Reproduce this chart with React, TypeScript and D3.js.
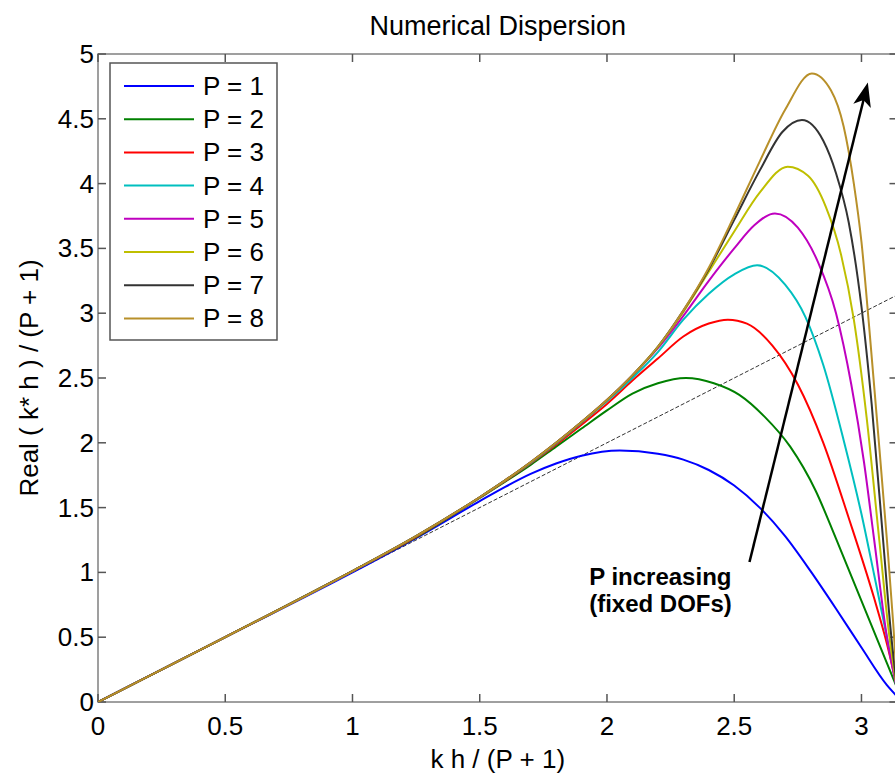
import React from 'react';
import * as d3 from 'd3';

type Pt = [number, number];

const seriesLabels = ['P = 1', 'P = 2', 'P = 3', 'P = 4', 'P = 5', 'P = 6', 'P = 7', 'P = 8'];
const seriesColors = ['#0000ff', '#008000', '#ff0000', '#00bfbf', '#bf00bf', '#bfbf00', '#333333', '#b8902a'];

const p1: Pt[] = [[0, 0], [0.5, 0.5], [1.0, 1.0], [1.25, 1.265], [1.5, 1.55], [1.6, 1.66], [1.7, 1.76], [1.8, 1.84], [1.9, 1.9], [2.05, 1.94], [2.2, 1.915], [2.3, 1.87], [2.4, 1.79], [2.5, 1.67], [2.6, 1.5], [2.7, 1.28], [2.8, 1.01], [2.9, 0.72], [3.0, 0.42], [3.1, 0.13], [Math.PI, 0.04]];
const p2: Pt[] = [[0, 0], [0.5, 0.5], [1.0, 1.01], [1.25, 1.27], [1.5, 1.575], [1.6, 1.7], [1.7, 1.83], [1.8, 1.97], [1.9, 2.11], [2.0, 2.25], [2.1, 2.38], [2.2, 2.46], [2.31, 2.5], [2.42, 2.46], [2.52, 2.37], [2.62, 2.2], [2.72, 1.97], [2.82, 1.63], [2.9, 1.26], [3.0, 0.78], [3.1, 0.3], [Math.PI, 0.1]];
const p3: Pt[] = [[0, 0], [0.5, 0.5], [1.0, 1.01], [1.25, 1.275], [1.5, 1.578], [1.6, 1.705], [1.7, 1.84], [1.8, 1.985], [1.9, 2.14], [2.0, 2.3], [2.1, 2.48], [2.2, 2.65], [2.3, 2.82], [2.4, 2.92], [2.475, 2.95], [2.55, 2.92], [2.65, 2.75], [2.75, 2.45], [2.85, 2.0], [2.95, 1.42], [3.05, 0.8], [3.1, 0.45], [Math.PI, 0.1]];
const p4: Pt[] = [[0, 0], [0.5, 0.5], [1.0, 1.01], [1.25, 1.28], [1.5, 1.58], [1.6, 1.71], [1.7, 1.845], [1.8, 1.995], [1.9, 2.155], [2.0, 2.32], [2.1, 2.5], [2.2, 2.7], [2.3, 2.95], [2.4, 3.15], [2.5, 3.3], [2.59, 3.37], [2.7, 3.22], [2.78, 2.97], [2.85, 2.6], [2.93, 2.02], [3.0, 1.45], [3.05, 0.98], [3.1, 0.5], [Math.PI, 0.08]];
const p5: Pt[] = [[0, 0], [0.5, 0.5], [1.0, 1.01], [1.25, 1.28], [1.5, 1.58], [1.6, 1.71], [1.7, 1.85], [1.8, 2.0], [1.9, 2.16], [2.0, 2.33], [2.1, 2.52], [2.2, 2.73], [2.3, 2.98], [2.4, 3.25], [2.5, 3.5], [2.58, 3.68], [2.66, 3.77], [2.75, 3.66], [2.83, 3.39], [2.9, 3.0], [2.96, 2.45], [3.01, 1.85], [3.05, 1.25], [3.1, 0.5], [Math.PI, 0.08]];
const p6: Pt[] = [[0, 0], [0.5, 0.5], [1.0, 1.01], [1.25, 1.28], [1.5, 1.58], [1.6, 1.71], [1.7, 1.85], [1.8, 2.0], [1.9, 2.16], [2.0, 2.33], [2.1, 2.52], [2.2, 2.74], [2.3, 3.01], [2.4, 3.32], [2.5, 3.63], [2.6, 3.93], [2.71, 4.13], [2.79, 4.06], [2.86, 3.82], [2.92, 3.45], [2.97, 2.95], [3.02, 2.2], [3.07, 1.25], [3.11, 0.5], [Math.PI, 0.08]];
const p7: Pt[] = [[0, 0], [0.5, 0.5], [1.0, 1.01], [1.25, 1.28], [1.5, 1.58], [1.6, 1.71], [1.7, 1.85], [1.8, 2.0], [1.9, 2.16], [2.0, 2.33], [2.1, 2.52], [2.2, 2.74], [2.3, 3.02], [2.4, 3.34], [2.5, 3.72], [2.6, 4.1], [2.69, 4.4], [2.766, 4.49], [2.85, 4.33], [2.9, 4.08], [2.95, 3.7], [3.0, 3.05], [3.04, 2.3], [3.085, 1.25], [3.115, 0.55], [Math.PI, 0.08]];
const p8: Pt[] = [[0, 0], [0.5, 0.5], [1.0, 1.01], [1.25, 1.28], [1.5, 1.58], [1.6, 1.71], [1.7, 1.85], [1.8, 2.0], [1.9, 2.16], [2.0, 2.33], [2.1, 2.52], [2.2, 2.74], [2.3, 3.02], [2.4, 3.35], [2.5, 3.75], [2.6, 4.17], [2.7, 4.57], [2.805, 4.85], [2.88, 4.72], [2.93, 4.44], [2.97, 4.0], [3.0, 3.55], [3.03, 2.9], [3.06, 2.2], [3.1, 1.25], [3.125, 0.6], [Math.PI, 0.08]];
const seriesData: Pt[][] = [p1, p2, p3, p4, p5, p6, p7, p8];

const referenceLine: Pt[] = [[0, 0], [Math.PI, Math.PI]];
const arrowFrom: Pt = [2.56, 1.08];
const arrowTo: Pt = [3.025, 4.78];

const xTicks = [0, 0.5, 1, 1.5, 2, 2.5, 3];
const yTicks = [0, 0.5, 1, 1.5, 2, 2.5, 3, 3.5, 4, 4.5, 5];
const xDomain: [number, number] = [0, Math.PI];
const yDomain: [number, number] = [0, 5];

const titleText = 'Numerical Dispersion';
const xLabelText = 'k h / (P + 1)';
const yLabelText = 'Real ( k* h ) / (P + 1)';
const noteLines = ['P increasing', '(fixed DOFs)'];

const W = 895;
const H = 777;
const left = 98;
const right = 897.5;
const top = 54;
const bottom = 702;
const font = 'Liberation Sans, Arial, Helvetica, sans-serif';

export default function App() {
  const x = d3.scaleLinear().domain(xDomain).range([left, right]);
  const y = d3.scaleLinear().domain(yDomain).range([bottom, top]);
  const line = d3.line<Pt>().x(d => x(d[0])).y(d => y(d[1])).curve(d3.curveMonotoneX);
  const straight = d3.line<Pt>().x(d => x(d[0])).y(d => y(d[1]));

  const ax = x(arrowFrom[0]), ay = y(arrowFrom[1]);
  const bx = x(arrowTo[0]), by = y(arrowTo[1]);
  const ang = Math.atan2(by - ay, bx - ax);
  const hl = 24, hw = 9;
  const baseX = bx - hl * Math.cos(ang), baseY = by - hl * Math.sin(ang);
  const nx = -Math.sin(ang), ny = Math.cos(ang);
  const head = `M${bx},${by}L${baseX + nx * hw},${baseY + ny * hw}L${baseX + hl * 0.25 * Math.cos(ang)},${baseY + hl * 0.25 * Math.sin(ang)}L${baseX - nx * hw},${baseY - ny * hw}Z`;

  const tickLen = 8;
  const axisColor = '#808080';
  const legX = 110, legY = 63, legW = 167, legH = 277;
  const legStep = 33.2;

  return (
    <svg width={W} height={H} style={{ position: 'absolute', left: 0, top: 0, background: '#fff' }} fontFamily={font}>
      <rect x={0} y={0} width={W} height={H} fill="#fff" />
      <defs>
        <clipPath id="plot">
          <rect x={left} y={top} width={right - left} height={bottom - top} />
        </clipPath>
      </defs>
      <rect x={left} y={top} width={right - left} height={bottom - top} fill="none" stroke={axisColor} strokeWidth={1.5} />
      {xTicks.map(t => (
        <g key={'xt' + t}>
          <line x1={x(t)} x2={x(t)} y1={bottom} y2={bottom - tickLen} stroke="#555" strokeWidth={1.5} />
          <line x1={x(t)} x2={x(t)} y1={top} y2={top + tickLen} stroke="#555" strokeWidth={1.5} />
          <text x={x(t)} y={bottom + 33} textAnchor="middle" fontSize={26} fill="#000">{String(t)}</text>
        </g>
      ))}
      {yTicks.map(t => (
        <g key={'yt' + t}>
          <line x1={left} x2={left + tickLen} y1={y(t)} y2={y(t)} stroke="#555" strokeWidth={1.5} />
          <line x1={right} x2={right - tickLen} y1={y(t)} y2={y(t)} stroke="#555" strokeWidth={1.5} />
          <text x={left - 4} y={y(t)} textAnchor="end" dominantBaseline="central" fontSize={26} fill="#000">{String(t)}</text>
        </g>
      ))}
      <g clipPath="url(#plot)">
        <path d={straight(referenceLine) || ''} fill="none" stroke="#333" strokeWidth={1} strokeDasharray="4,2" />
        {seriesData.map((s, i) => (
          <path key={'s' + i} d={line(s) || ''} fill="none" stroke={seriesColors[i]} strokeWidth={2} />
        ))}
      </g>
      <line x1={ax} y1={ay} x2={baseX + hl * 0.3 * Math.cos(ang)} y2={baseY + hl * 0.3 * Math.sin(ang)} stroke="#000" strokeWidth={2.5} />
      <path d={head} fill="#000" />
      {noteLines.map((t, i) => (
        <text key={'n' + i} x={x(1.93)} y={585 + i * 27} fontSize={24} fontWeight="bold" fill="#000">{t}</text>
      ))}
      <rect x={legX} y={legY} width={legW} height={legH} fill="#fff" stroke="#555" strokeWidth={1.5} />
      {seriesLabels.map((lab, i) => (
        <g key={'l' + i}>
          <line x1={124} x2={194} y1={legY + 23 + i * legStep} y2={legY + 23 + i * legStep} stroke={seriesColors[i]} strokeWidth={2} />
          <text x={203} y={legY + 23 + i * legStep} dominantBaseline="central" fontSize={26} fill="#000">{lab}</text>
        </g>
      ))}
      <text x={(left + right) / 2} y={35} textAnchor="middle" fontSize={27} fill="#000">{titleText}</text>
      <text x={(left + right) / 2} y={768} textAnchor="middle" fontSize={26} fill="#000">{xLabelText}</text>
      <text transform={`translate(38,${(top + bottom) / 2}) rotate(-90)`} textAnchor="middle" fontSize={26} fill="#000">{yLabelText}</text>
    </svg>
  );
}
